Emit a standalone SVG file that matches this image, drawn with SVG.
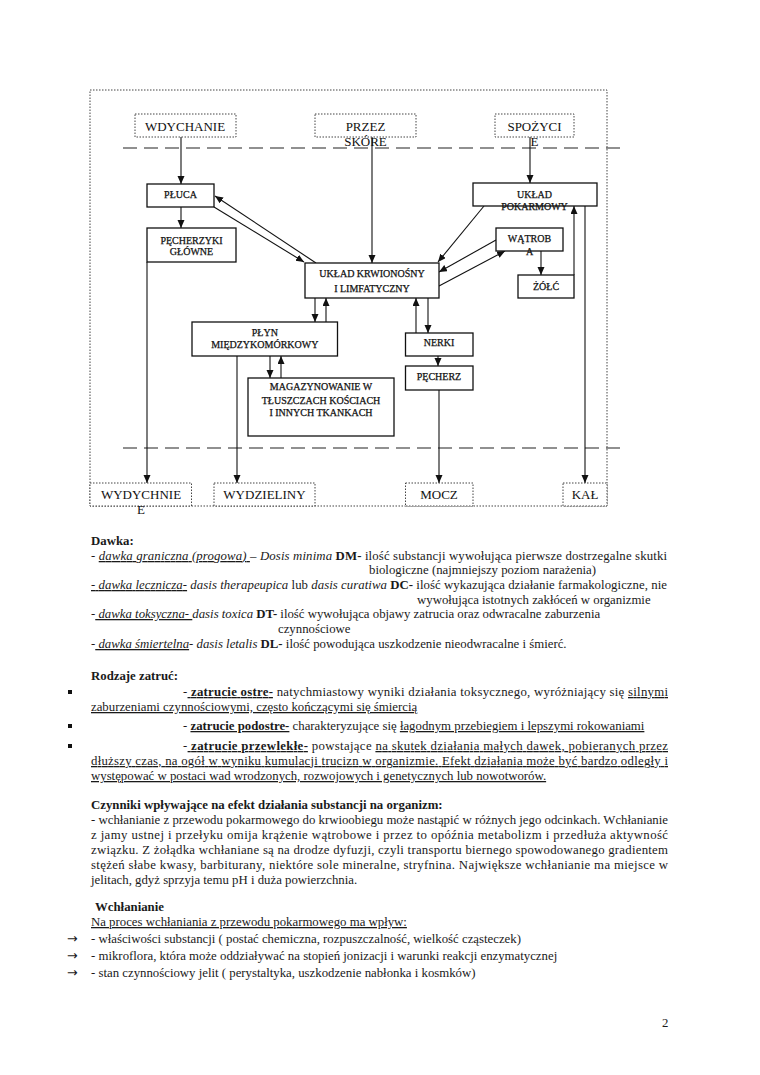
<svg xmlns="http://www.w3.org/2000/svg" width="760" height="1075" viewBox="0 0 760 1075">
<defs>
<marker id="ah" markerUnits="userSpaceOnUse" markerWidth="9" markerHeight="8" refX="8" refY="3.5" orient="auto">
<path d="M0,0 L8,3.5 L0,7 z" fill="#111"/>
</marker>
<style>
.dot{fill:#fff;stroke:#444;stroke-width:1;stroke-dasharray:1.5 1.5}
.box{fill:#fff;stroke:#111;stroke-width:1.3}
.dash{fill:none;stroke:#222;stroke-width:1.2;stroke-dasharray:14 7}
.c{fill:none;stroke:#111;stroke-width:1.1}
.a{fill:none;stroke:#111;stroke-width:1.1;marker-end:url(#ah)}
.big{font-family:"Liberation Serif","DejaVu Serif",serif;font-size:13px;fill:#111;text-anchor:middle}
.sm{font-family:"Liberation Serif","DejaVu Serif",serif;font-size:10px;fill:#111;stroke:#111;stroke-width:0.25;text-anchor:middle}
.t{font-family:"Liberation Serif","DejaVu Serif",serif;font-size:12.8px;fill:#1a1a1a}
.ar{font-family:"DejaVu Sans",sans-serif;font-size:12.8px;fill:#1a1a1a}
.b{font-weight:bold}
.i{font-style:italic}
.u{text-decoration:underline}
</style>
</defs>
<rect width="760" height="1075" fill="#fff"/>
<!-- frame -->
<rect x="90" y="90" width="517" height="416" fill="none" stroke="#444" stroke-width="1" stroke-dasharray="1.5 1.5"/>
<line class="dash" x1="123" y1="148" x2="620" y2="148"/>
<line class="dash" x1="123" y1="448" x2="620" y2="448"/>

<g id="connectors">
<line class="a" x1="181" y1="137" x2="181" y2="184"/>
<line class="a" x1="372" y1="137" x2="372" y2="263"/>
<line class="a" x1="530" y1="137" x2="530" y2="183"/>
<line class="a" x1="181" y1="207" x2="181" y2="228"/>
<line class="a" x1="214" y1="207" x2="304" y2="262"/>
<line class="a" x1="316" y1="263" x2="215" y2="196"/>
<line class="a" x1="484" y1="206" x2="438" y2="262"/>
<line class="a" x1="496" y1="240" x2="439" y2="272"/>
<line class="a" x1="439" y1="286" x2="505" y2="251"/>
<line class="a" x1="541" y1="251" x2="541" y2="275"/>
<line class="a" x1="574" y1="275" x2="574" y2="206"/>
<line class="a" x1="585" y1="206" x2="585" y2="483"/>
<line class="a" x1="315" y1="298" x2="315" y2="322"/>
<line class="a" x1="326" y1="322" x2="326" y2="298"/>
<line class="a" x1="416" y1="333" x2="416" y2="298"/>
<line class="a" x1="428" y1="298" x2="428" y2="333"/>
<line class="a" x1="438" y1="356" x2="438" y2="366"/>
<line class="a" x1="270" y1="356" x2="270" y2="378"/>
<line class="a" x1="281" y1="378" x2="281" y2="356"/>
<line class="a" x1="147" y1="262" x2="147" y2="483"/>
<line class="a" x1="237" y1="356" x2="237" y2="483"/>
<line class="a" x1="439" y1="390" x2="439" y2="483"/>
</g>

<g id="wdychanie"><rect class="dot" x="135" y="114" width="101" height="23"/><text class="big" x="185" y="131">WDYCHANIE</text></g>
<g id="przez-skore"><rect class="dot" x="315" y="114" width="101" height="23"/><text class="big" x="365.5" y="131">PRZEZ</text><text class="big" x="365.5" y="146">SKÓRE</text></g>
<g id="spozycie"><rect class="dot" x="495" y="114" width="79" height="23"/><text class="big" x="534.5" y="131">SPOŻYCI</text><text class="big" x="534.5" y="146">E</text></g>

<g id="pluca"><rect class="box" x="147" y="184" width="67" height="23"/><text class="sm" x="180.5" y="198">PŁUCA</text></g>
<g id="uklad-pokarmowy"><rect class="box" x="473" y="183" width="124" height="23"/><text class="sm" x="534.5" y="198">UKŁAD</text><text class="sm" x="534.5" y="210">POKARMOWY</text></g>
<g id="pecherzyki"><rect class="box" x="147" y="228" width="89" height="34"/><text class="sm" x="191.5" y="243.5">PĘCHERZYKI</text><text class="sm" x="191.5" y="254.5">GŁÓWNE</text></g>
<g id="watroba"><rect class="box" x="496" y="228" width="67" height="23"/><text class="sm" x="529.5" y="242">WĄTROB</text><text class="sm" x="529.5" y="255">A</text></g>
<g id="uklad-krwionosny"><rect class="box" x="305" y="263" width="134" height="35"/><text class="sm" x="372" y="276.5">UKŁAD KRWIONOŚNY</text><text class="sm" x="372" y="292">I LIMFATYCZNY</text></g>
<g id="zolc"><rect class="box" x="518" y="275" width="56" height="23"/><text class="sm" x="546" y="290">ŻÓŁĆ</text></g>
<g id="plyn"><rect class="box" x="192" y="322" width="145.5" height="34"/><text class="sm" x="264.8" y="335.5">PŁYN</text><text class="sm" x="264.8" y="347.5">MIĘDZYKOMÓRKOWY</text></g>
<g id="nerki"><rect class="box" x="405.5" y="333" width="67.5" height="23"/><text class="sm" x="439" y="346">NERKI</text></g>
<g id="pecherz"><rect class="box" x="405.5" y="366" width="67.5" height="24"/><text class="sm" x="439" y="380">PĘCHERZ</text></g>
<g id="magazynowanie"><rect class="box" x="248" y="378" width="146" height="58"/><text class="sm" x="321" y="390">MAGAZYNOWANIE W</text><text class="sm" x="321" y="403.5">TŁUSZCZACH KOŚCIACH</text><text class="sm" x="321" y="416">I INNYCH TKANKACH</text></g>

<g id="wydychnie"><rect class="dot" x="90" y="483" width="101.5" height="23"/><text class="big" x="141" y="499">WYDYCHNIE</text><text class="big" x="141" y="514">E</text></g>
<g id="wydzieliny"><rect class="dot" x="214" y="483" width="101" height="23"/><text class="big" x="264.5" y="499">WYDZIELINY</text></g>
<g id="mocz"><rect class="dot" x="405.5" y="483" width="67.5" height="23"/><text class="big" x="439" y="499">MOCZ</text></g>
<g id="kal"><rect class="dot" x="563" y="483" width="44" height="23"/><text class="big" x="585" y="499">KAŁ</text></g>

<!-- text section: Dawka -->
<g id="dawka">
<text class="t b" x="91" y="545">Dawka:</text>
<text class="t" x="91" y="560" textLength="576" lengthAdjust="spacing">- <tspan class="i u">dawka graniczna (progowa) </tspan><tspan class="i">– Dosis minima</tspan> <tspan class="b">DM-</tspan> ilość substancji wywołująca pierwsze dostrzegalne skutki</text>
<text class="t" x="369" y="574">biologiczne (najmniejszy poziom narażenia)</text>
<text class="t" x="91" y="589" textLength="576" lengthAdjust="spacing"><tspan class="i u">- dawka lecznicza-</tspan> <tspan class="i">dasis therapeupica</tspan> lub <tspan class="i">dasis curatiwa</tspan> <tspan class="b">DC-</tspan> ilość wykazująca działanie farmakologiczne, nie</text>
<text class="t" x="417" y="604">wywołująca istotnych zakłóceń w organizmie</text>
<text class="t" x="91" y="618">-<tspan class="i u"> dawka toksyczna- </tspan><tspan class="i">dasis toxica</tspan> <tspan class="b">DT-</tspan> ilość wywołująca objawy zatrucia oraz odwracalne zaburzenia</text>
<text class="t" x="278" y="633">czynnościowe</text>
<text class="t" x="91" y="648">-<tspan class="i u"> dawka śmiertelna</tspan><tspan class="i">- dasis letalis</tspan> <tspan class="b">DL-</tspan> ilość powodująca uszkodzenie nieodwracalne i śmierć.</text>
</g>

<!-- Rodzaje zatruć -->
<g id="rodzaje">
<text class="t b" x="91" y="680">Rodzaje zatruć:</text>
<rect x="68" y="690" width="4" height="4" fill="#111"/>
<text class="t" x="183" y="696" textLength="485" lengthAdjust="spacing">-<tspan class="b u"> zatrucie ostre-</tspan> natychmiastowy wyniki działania toksycznego, wyróżniający się <tspan class="u">silnymi</tspan></text>
<text class="t u" x="91" y="711">zaburzeniami czynnościowymi, często kończącymi się śmiercią</text>
<rect x="68" y="724" width="4" height="4" fill="#111"/>
<text class="t" x="183" y="730">- <tspan class="b u">zatrucie podostre-</tspan> charakteryzujące się <tspan class="u">łagodnym przebiegiem i lepszymi rokowaniami</tspan></text>
<rect x="68" y="744" width="4" height="4" fill="#111"/>
<text class="t" x="183" y="750" textLength="485" lengthAdjust="spacing">-<tspan class="b u"> zatrucie przewlekłe-</tspan> powstające <tspan class="u">na skutek działania małych dawek, pobieranych przez</tspan></text>
<text class="t u" x="91" y="765" textLength="577" lengthAdjust="spacing">dłuższy czas, na ogół w wyniku kumulacji trucizn w organizmie. Efekt działania może być bardzo odległy i</text>
<text class="t u" x="91" y="780">występować w postaci wad wrodzonych, rozwojowych i genetycznych lub nowotworów.</text>
</g>

<!-- Czynniki -->
<g id="czynniki">
<text class="t b" x="91" y="809">Czynniki wpływające na efekt działania substancji na organizm:</text>
<text class="t" x="91" y="824" textLength="577" lengthAdjust="spacing">- wchłanianie z przewodu pokarmowego do krwioobiegu może nastąpić w różnych jego odcinkach. Wchłanianie</text>
<text class="t" x="91" y="839" textLength="577" lengthAdjust="spacing">z jamy ustnej i przełyku omija krążenie wątrobowe i przez to opóźnia metabolizm i przedłuża aktywność</text>
<text class="t" x="91" y="854" textLength="577" lengthAdjust="spacing">związku. Z żołądka wchłaniane są na drodze dyfuzji, czyli transportu biernego spowodowanego gradientem</text>
<text class="t" x="91" y="869" textLength="577" lengthAdjust="spacing">stężeń słabe kwasy, barbiturany, niektóre sole mineralne, stryfnina. Największe wchłanianie ma miejsce w</text>
<text class="t" x="91" y="884">jelitach, gdyż sprzyja temu pH i duża powierzchnia.</text>
</g>

<!-- Wchłanianie -->
<g id="wchlanianie">
<text class="t b" x="95" y="911">Wchłanianie</text>
<text class="t u" x="91" y="926">Na proces wchłaniania z przewodu pokarmowego ma wpływ:</text>
<text class="ar" x="67" y="943">→</text>
<text class="t" x="91" y="943">- właściwości substancji ( postać chemiczna, rozpuszczalność, wielkość cząsteczek)</text>
<text class="ar" x="67" y="960">→</text>
<text class="t" x="91" y="960">- mikroflora, która może oddziaływać na stopień jonizacji i warunki reakcji enzymatycznej</text>
<text class="ar" x="67" y="977">→</text>
<text class="t" x="91" y="977">- stan czynnościowy jelit ( perystaltyka, uszkodzenie nabłonka i kosmków)</text>
</g>

<text class="t" x="662" y="1027" font-size="13">2</text>
</svg>
